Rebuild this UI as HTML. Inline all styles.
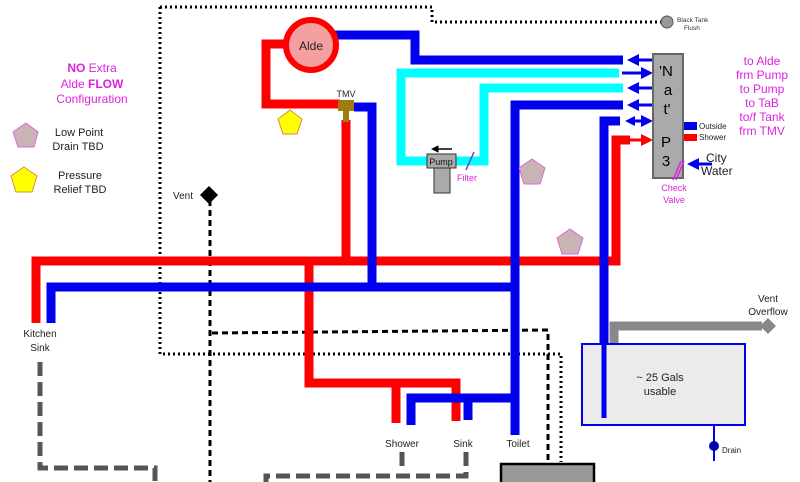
<!DOCTYPE html>
<html><head><meta charset="utf-8"><style>
html,body{margin:0;padding:0;background:#fff;}
svg{display:block;font-family:"Liberation Sans","DejaVu Sans",sans-serif;}
</style></head><body>
<svg width="800" height="482" viewBox="0 0 800 482" xmlns="http://www.w3.org/2000/svg">
<defs>
<marker id="ab" markerWidth="4" markerHeight="4" refX="3" refY="2" orient="auto" markerUnits="strokeWidth"><path d="M0,0 L4,2 L0,4 Z" fill="#0000ee"/></marker>
<marker id="ar" markerWidth="4" markerHeight="4" refX="3" refY="2" orient="auto" markerUnits="strokeWidth"><path d="M0,0 L4,2 L0,4 Z" fill="#ff0000"/></marker>
<marker id="ak" markerWidth="5" markerHeight="5" refX="3" refY="2.5" orient="auto" markerUnits="strokeWidth"><path d="M0,0 L5,2.5 L0,5 Z" fill="#000"/></marker>
</defs>
<g fill="none" stroke="#000" stroke-width="3" stroke-dasharray="2,3">
<polyline points="160,7 432,7 432,22 661,22"/>
<polyline points="160,7 160,354 561,354 561,462"/>
</g>
<circle cx="667" cy="22" r="6" fill="#999" stroke="#555" stroke-width="1"/>
<text x="677" y="22" font-size="6.5" fill="#333">Black Tank</text>
<text x="684" y="30" font-size="6.5" fill="#333">Flush</text>
<g fill="none" stroke="#000" stroke-width="3" stroke-dasharray="6,4">
<line x1="210" y1="200" x2="210" y2="482"/>
<polyline points="212,333 548,330 548,462"/>
</g>
<path d="M209,186 L218,195 L209,204 L200,195 Z" fill="#000"/>
<text x="173" y="199" font-size="10" fill="#222">Vent</text>
<g fill="none" stroke="#555" stroke-width="5" stroke-dasharray="14,6">
<polyline points="40,362 40,468 155,468 155,482"/>
<line x1="402" y1="452" x2="402" y2="467"/>
<polyline points="466,452 466,476 266,476 266,482"/>
</g>
<rect x="501" y="464" width="93" height="30" fill="#999" stroke="#000" stroke-width="2.5"/>
<g fill="none" stroke-width="9" stroke-linejoin="miter">
<polyline stroke="#ff0000" points="289,44 266,44 266,104 340,104"/>
<line stroke="#ff0000" x1="346" y1="120" x2="346" y2="262"/>
<polyline stroke="#ff0000" points="36,323 36,261 616,261 616,140 630,140"/>
<polyline stroke="#ff0000" points="309,261 309,383 456,383 456,421"/>
<line stroke="#ff0000" x1="396" y1="383" x2="396" y2="423"/>
<polyline stroke="#0000ee" points="334,35 415,35 415,60 623,60"/>
<polyline stroke="#0000ee" points="354,107 372,107 372,287"/>
<polyline stroke="#0000ee" points="51,323 51,287 516,287"/>
<polyline stroke="#0000ee" points="623,105 515,105 515,435"/>
<polyline stroke="#0000ee" points="411,425 411,398 516,398"/>
<line stroke="#0000ee" x1="468" y1="398" x2="468" y2="420"/>
<polyline stroke="#0000ee" points="620,121 604,121 604,418"/>
<polyline stroke="#00ffff" points="619,73 401,73 401,161 428,161"/>
<polyline stroke="#00ffff" points="623,88 484,88 484,161 455,161"/>
<polyline stroke="#888" points="614,346 614,326 762,326"/>
</g>
<path d="M768,318 L776,326 L768,334 L760,326 Z" fill="#888"/>
<text x="768" y="302" font-size="10" text-anchor="middle" fill="#222">Vent</text>
<text x="768" y="315" font-size="10" text-anchor="middle" fill="#222">Overflow</text>
<g stroke="#0000ee" stroke-width="3" fill="none">
<line x1="652" y1="60" x2="630" y2="60" marker-end="url(#ab)"/>
<line x1="622" y1="73" x2="650" y2="73" marker-end="url(#ab)"/>
<line x1="652" y1="88" x2="630" y2="88" marker-end="url(#ab)"/>
<line x1="652" y1="105" x2="630" y2="105" marker-end="url(#ab)"/>
<line x1="630" y1="121" x2="650" y2="121" marker-end="url(#ab)"/>
<line x1="712" y1="164" x2="690" y2="164" marker-end="url(#ab)"/>
</g>
<path d="M625,121 L635,116 L635,126 Z" fill="#0000ee"/>
<line x1="628" y1="140" x2="650" y2="140" stroke="#ff0000" stroke-width="3" marker-end="url(#ar)"/>
<rect x="653" y="54" width="30" height="124" fill="#aaa" stroke="#666" stroke-width="2"/>
<g font-size="15" fill="#000" text-anchor="middle">
<text x="666" y="76">'N</text><text x="668" y="95">a</text><text x="667" y="114">t'</text>
<text x="666" y="147">P</text><text x="666" y="166">3</text>
</g>
<rect x="684" y="122" width="13" height="8" fill="#0000ee"/>
<rect x="684" y="134" width="13" height="7" fill="#ff0000"/>
<text x="699" y="129" font-size="8" fill="#222">Outside</text>
<text x="699" y="140" font-size="8" fill="#222">Shower</text>
<text x="706" y="162" font-size="12" fill="#222">City</text>
<text x="701" y="175" font-size="12" fill="#222">Water</text>
<line x1="681" y1="161" x2="673" y2="180" stroke="#dd22dd" stroke-width="1.5"/>
<line x1="684" y1="161" x2="676" y2="180" stroke="#dd22dd" stroke-width="1.5"/>
<text x="674" y="191" font-size="9" fill="#dd22dd" text-anchor="middle">Check</text>
<text x="674" y="203" font-size="9" fill="#dd22dd" text-anchor="middle">Valve</text>
<g font-size="12" fill="#dd22dd" text-anchor="middle">
<text x="762" y="65">to Alde</text><text x="762" y="79">frm Pump</text><text x="762" y="93">to Pump</text>
<text x="762" y="107">to TaB</text><text x="762" y="121">to/f Tank</text><text x="762" y="135">frm TMV</text>
</g>
<circle cx="311" cy="45" r="25" fill="#f4a0a0" stroke="#ff0000" stroke-width="6"/>
<text x="311" y="50" font-size="12" text-anchor="middle" fill="#222">Alde</text>
<rect x="338" y="100" width="16" height="11" fill="#a07c10"/>
<rect x="343" y="110" width="6" height="12" fill="#a07c10"/>
<text x="346" y="97" font-size="9" text-anchor="middle" fill="#222">TMV</text>
<rect x="434" y="168" width="16" height="25" fill="#aaa" stroke="#333" stroke-width="1"/>
<rect x="427" y="154" width="29" height="14" fill="#aaa" stroke="#333" stroke-width="1"/>
<text x="441" y="165" font-size="9" text-anchor="middle" fill="#111">Pump</text>
<line x1="452" y1="149" x2="434" y2="149" stroke="#000" stroke-width="1.5" marker-end="url(#ak)"/>
<line x1="474" y1="152" x2="466" y2="170" stroke="#8833cc" stroke-width="1.5"/>
<text x="457" y="181" font-size="9" fill="#dd22dd">Filter</text>
<g stroke-width="1">
<polygon points="290,110 302,119 297,134 283,134 278,119" fill="#ffff00" stroke="#d09040"/>
<polygon points="532,159 545,168 540,184 524,184 519,168" fill="#c8b4b4" stroke="#dd66dd"/>
<polygon points="570,229 583,238 578,254 562,254 557,238" fill="#c8b4b4" stroke="#dd66dd"/>
<polygon points="26,123 38,132 34,147 18,147 13,132" fill="#c8b4b4" stroke="#dd66dd"/>
<polygon points="24,167 37,176 32,192 16,192 11,176" fill="#ffff00" stroke="#d09040"/>
</g>
<g font-size="12" fill="#dd22dd" text-anchor="middle">
<text x="92" y="72"><tspan font-weight="bold">NO</tspan> Extra</text>
<text x="92" y="88">Alde <tspan font-weight="bold">FLOW</tspan></text>
<text x="92" y="103">Configuration</text>
</g>
<g font-size="11" fill="#222" text-anchor="middle">
<text x="79" y="136">Low Point</text><text x="78" y="150">Drain  TBD</text>
<text x="80" y="179">Pressure</text><text x="80" y="193">Relief  TBD</text>
</g>
<rect x="582" y="344" width="163" height="81" fill="#ebebeb" stroke="#0000ee" stroke-width="2"/>
<line x1="604" y1="340" x2="604" y2="418" stroke="#0000ee" stroke-width="5"/>
<text x="660" y="381" font-size="11" text-anchor="middle" fill="#222">~ 25 Gals</text>
<text x="660" y="395" font-size="11" text-anchor="middle" fill="#222">usable</text>
<line x1="714" y1="425" x2="714" y2="461" stroke="#0000ee" stroke-width="2"/>
<circle cx="714" cy="446" r="5" fill="#0000aa"/>
<text x="722" y="453" font-size="8" fill="#222">Drain</text>
<g font-size="10" fill="#222" text-anchor="middle">
<text x="40" y="337">Kitchen</text><text x="40" y="351">Sink</text>
<text x="402" y="447">Shower</text><text x="463" y="447">Sink</text><text x="518" y="447">Toilet</text>
</g>
</svg>
</body></html>
